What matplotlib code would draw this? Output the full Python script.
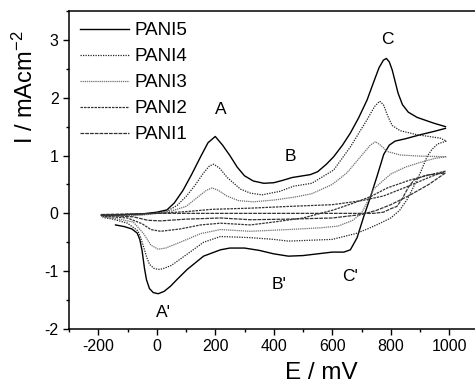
import matplotlib
matplotlib.use("Agg")
import matplotlib.pyplot as plt
from matplotlib.ticker import MultipleLocator

plt.rcParams['font.family'] = ['Liberation Sans', 'DejaVu Sans']
plt.rcParams['axes.unicode_minus'] = False
plt.rcParams['mathtext.default'] = 'regular'

# ---------------- data (mV, mA cm^-2) ----------------
p5_fwd_E = [-190, -150, -100, -50, 0, 35, 60, 90, 120, 150, 175, 200, 225, 250, 275, 300, 330, 366, 400,
            430, 463, 500, 525, 550, 580, 605, 635, 662, 690, 719, 740, 760, 775, 785, 795, 805, 815, 825,
            840, 860, 890, 947, 987]
p5_fwd_I = [-0.03, -0.03, -0.02, -0.01, 0.02, 0.06, 0.18, 0.40, 0.68, 0.98, 1.22, 1.33, 1.18, 1.00, 0.80,
            0.65, 0.56, 0.52, 0.53, 0.57, 0.62, 0.65, 0.67, 0.72, 0.85, 0.98, 1.18, 1.39, 1.65, 1.96, 2.25,
            2.52, 2.65, 2.68, 2.62, 2.48, 2.28, 2.08, 1.88, 1.75, 1.66, 1.56, 1.50]
p5_rev_E = [987, 950, 901, 850, 815, 795, 776, 753, 731, 708, 685, 662, 640, 600, 550, 500, 450, 400, 350,
            300, 250, 218, 160, 104, 70, 47, 25, 5, -12, -25, -35, -42, -50, -58, -67, -85, -110, -141]
p5_rev_I = [1.47, 1.42, 1.36, 1.29, 1.25, 1.18, 1.02, 0.64, 0.29, -0.05, -0.42, -0.63, -0.67, -0.67,
            -0.70, -0.73, -0.74, -0.70, -0.64, -0.60, -0.60, -0.63, -0.74, -0.97, -1.14, -1.26, -1.35,
            -1.39, -1.37, -1.30, -1.15, -0.95, -0.65, -0.45, -0.34, -0.27, -0.23, -0.20]

p4_fwd_E = [-190, -150, -100, -50, 0, 40, 70, 100, 130, 160, 180, 195, 215, 241, 286, 320, 360, 420, 468,
            530, 605, 662, 719, 745, 762, 775, 790, 805, 832, 890, 970, 990]
p4_fwd_I = [-0.04, -0.04, -0.03, -0.02, 0.01, 0.05, 0.14, 0.29, 0.48, 0.70, 0.82, 0.85, 0.78, 0.62, 0.42,
            0.35, 0.32, 0.38, 0.47, 0.52, 0.75, 1.15, 1.62, 1.85, 1.94, 1.88, 1.68, 1.52, 1.43, 1.36, 1.30,
            1.25]
p4_rev_E = [990, 960, 940, 924, 901, 879, 856, 830, 800, 760, 720, 680, 640, 600, 500, 450, 400, 320, 218,
            160, 100, 50, 20, 5, -10, -25, -35, -45, -55, -65, -100, -150, -185]
p4_rev_I = [1.25, 1.20, 1.10, 0.98, 0.70, 0.47, 0.24, 0.05, -0.08, -0.18, -0.27, -0.35, -0.40, -0.45,
            -0.47, -0.48, -0.45, -0.42, -0.40, -0.50, -0.72, -0.90, -0.96, -0.97, -0.95, -0.88, -0.75,
            -0.58, -0.42, -0.30, -0.17, -0.10, -0.07]

p3_fwd_E = [-190, -150, -100, -50, 0, 50, 100, 140, 170, 189, 210, 240, 280, 330, 400, 470, 530, 600, 650,
            700, 730, 748, 765, 788, 832, 900, 990]
p3_fwd_I = [-0.05, -0.05, -0.04, -0.03, 0.0, 0.04, 0.12, 0.28, 0.40, 0.44, 0.40, 0.30, 0.22, 0.20, 0.23,
            0.28, 0.34, 0.50, 0.70, 1.00, 1.18, 1.24, 1.18, 1.07, 1.01, 0.99, 0.98]
p3_rev_E = [990, 950, 900, 850, 800, 770, 742, 720, 700, 670, 620, 560, 450, 320, 218, 150, 80, 30, 5,
            -20, -45, -80, -130, -185]
p3_rev_I = [0.98, 0.95, 0.88, 0.80, 0.68, 0.55, 0.42, 0.20, 0.00, -0.12, -0.22, -0.25, -0.28, -0.31,
            -0.28, -0.35, -0.50, -0.60, -0.62, -0.55, -0.35, -0.15, -0.10, -0.06]

p2_fwd_E = [-190, -100, 0, 100, 190, 320, 450, 600, 700, 775, 850, 930, 987]
p2_fwd_I = [-0.03, -0.02, 0.0, 0.03, 0.07, 0.09, 0.12, 0.15, 0.22, 0.30, 0.45, 0.62, 0.73]
p2_rev_E = [987, 936, 868, 788, 731, 674, 605, 500, 400, 320, 218, 150, 80, 13, -20, -50, -100, -185]
p2_rev_I = [0.73, 0.67, 0.58, 0.44, 0.29, 0.18, 0.06, -0.08, -0.15, -0.20, -0.17, -0.20, -0.27, -0.31,
            -0.28, -0.18, -0.08, -0.05]

p1_fwd_E = [-190, 0, 200, 400, 600, 740, 775, 800, 821, 840, 860, 880, 920, 987]
p1_fwd_I = [-0.02, 0.0, 0.0, 0.0, 0.0, 0.0, 0.02, 0.08, 0.12, 0.26, 0.45, 0.58, 0.66, 0.70]
p1_rev_E = [987, 930, 860, 800, 750, 700, 600, 450, 320, 218, 100, 13, -30, -80, -185]
p1_rev_I = [0.70, 0.50, 0.30, 0.15, 0.05, -0.02, -0.08, -0.10, -0.11, -0.08, -0.10, -0.13, -0.12,
            -0.06, -0.03]

labels = ['PANI5', 'PANI4', 'PANI3', 'PANI2', 'PANI1']
peak_labels = ['A', 'B', 'C', "A'", "B'", "C'"]
peak_E = [218, 457, 788, 24, 417, 662]
peak_I = [1.79, 0.98, 3.01, -1.72, -1.23, -1.09]

xticks = [-200, 0, 200, 400, 600, 800, 1000]
yticks = [-2, -1, 0, 1, 2, 3]

# ---------------- plotting ----------------
fig = plt.figure(figsize=(4.75, 3.83), dpi=100)
ax = fig.add_axes([69 / 475, 54 / 383, 409.5 / 475, 318 / 383])

series = [
    (p5_fwd_E, p5_fwd_I, p5_rev_E, p5_rev_I, dict(color='black', lw=1.0, ls='-')),
    (p4_fwd_E, p4_fwd_I, p4_rev_E, p4_rev_I, dict(color='#222222', lw=0.9, ls=(0, (1, 1)))),
    (p3_fwd_E, p3_fwd_I, p3_rev_E, p3_rev_I, dict(color='#707070', lw=0.9, ls=(0, (1, 0.7)))),
    (p2_fwd_E, p2_fwd_I, p2_rev_E, p2_rev_I, dict(color='#333333', lw=0.9, ls=(0, (2, 0.8)))),
    (p1_fwd_E, p1_fwd_I, p1_rev_E, p1_rev_I, dict(color='#333333', lw=0.9, ls=(0, (3, 0.8)))),
]
for (fe, fi, re_, ri, st), lab in zip(series, labels):
    ax.plot(fe, fi, label=lab, **st)
    ax.plot(re_, ri, **st)

for t, e, i in zip(peak_labels, peak_E, peak_I):
    ax.text(e, i, t, fontsize=12.5, ha='center', va='center')

ax.set_xlim(-300, 1100)
ax.set_ylim(-2, 3.5)
ax.set_xticks(xticks)
ax.set_yticks(yticks)
ax.xaxis.set_minor_locator(MultipleLocator(100))
ax.yaxis.set_minor_locator(MultipleLocator(0.5))
ax.tick_params(which='major', direction='out', length=4, width=1, labelsize=11.5,
               top=False, right=False)
ax.tick_params(which='minor', direction='out', length=2.5, width=1, top=False, right=False)
for s in ax.spines.values():
    s.set_linewidth(1.1)
ax.spines['right'].set_visible(False)

ax.set_xlabel('E / mV', fontsize=17.5)
ax.set_ylabel('I / mAcm$^{-2}$', fontsize=17)
ax.xaxis.set_label_coords(0.615, -0.105)
ax.yaxis.set_label_coords(-0.077, 0.76)

ax.legend(loc='upper left', frameon=False, fontsize=13.5, handlelength=2.6,
          handletextpad=0.3, labelspacing=0.47, borderaxespad=0.2,
          bbox_to_anchor=(0.0, 1.0))

fig.savefig('out.png', dpi=100)
